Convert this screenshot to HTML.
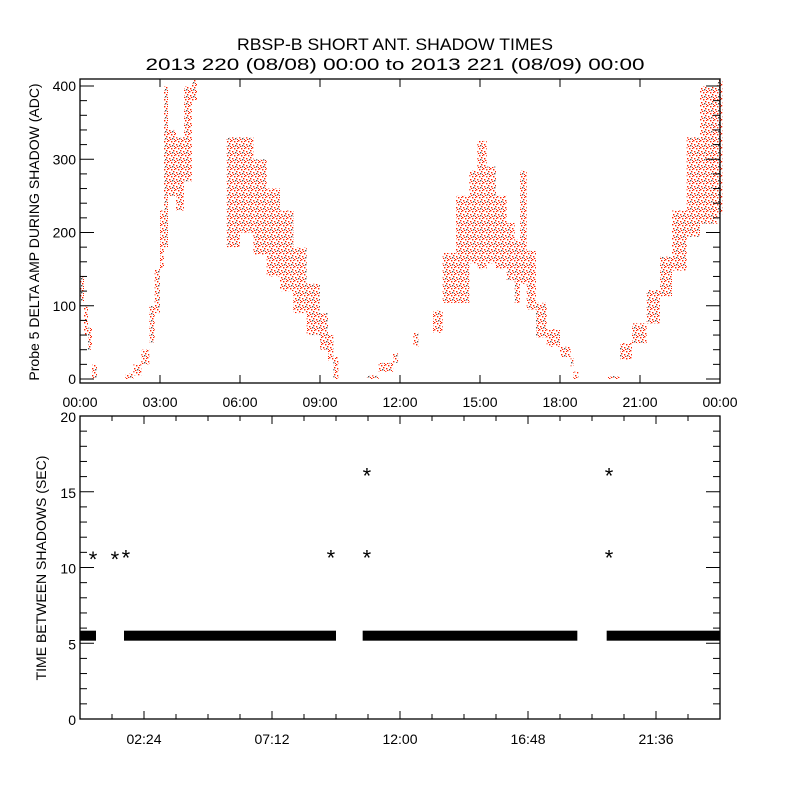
<!DOCTYPE html>
<html><head><meta charset="utf-8"><style>
html,body{margin:0;padding:0;background:#fff;}
svg{display:block;font-family:"Liberation Sans",sans-serif;}
</style></head><body>
<svg id="chart" width="800" height="800" viewBox="0 0 800 800" xmlns="http://www.w3.org/2000/svg">
<defs>
<pattern id="speck" width="7" height="7" patternUnits="userSpaceOnUse">
<rect x="0" y="0" width="1.4" height="1.4" fill="#ff2200"/>
<rect x="3" y="1" width="1.4" height="1.4" fill="#ff2200"/>
<rect x="5" y="3" width="1.4" height="1.4" fill="#ff2200"/>
<rect x="1" y="4" width="1.4" height="1.4" fill="#ff2200"/>
<rect x="4" y="5" width="1.4" height="1.4" fill="#555"/>
<rect x="2" y="6" width="1.4" height="1.4" fill="#ff2200"/>
<rect x="6" y="6" width="1" height="1" fill="#ff2200"/>
<rect x="6" y="1" width="1" height="1" fill="#ff2200"/>
</pattern>
</defs>
<text x="395" y="50" font-size="17" text-anchor="middle" textLength="316" lengthAdjust="spacingAndGlyphs">RBSP-B SHORT ANT. SHADOW TIMES</text>
<text x="395" y="70" font-size="17" text-anchor="middle" textLength="499" lengthAdjust="spacingAndGlyphs">2013 220 (08/08) 00:00 to 2013 221 (08/09) 00:00</text>
<g id="topPanel"></g>
<g id="botPanel"></g>
</svg>
<script>
// ---- top panel data: time (hours), low / high amplitude (ADC) of the scatter band ----
const ampTime = [0.0,0.15,0.3,0.45, 1.7,2.0,2.3,2.6,2.8,3.0,3.15,3.3,3.6,3.9,4.2,
 5.5,6.0,6.5,7.0,7.5,8.0,8.5,9.0,9.3,9.5,
 10.76,11.2,11.74,12.5,13.24,13.6,14.1,14.6,14.9,15.25,15.6,16.0,16.3,16.5,16.75,17.1,17.5,18.0,18.4,18.5,
 19.8,20.25,20.7,21.25,21.75,22.2,22.75,23.25,23.9];
const ampLow = [105,60,40,0, 0,5,20,50,90,150,180,250,230,270,380,
 180,200,170,140,120,90,60,40,25,0,
 0,10,22,44,63,104,104,158,150,158,150,135,104,130,95,57,44,30,17,0,
 0,26,49,76,113,148,194,212,225];
const ampHigh = [140,100,70,20, 8,20,40,100,150,230,400,340,330,400,410,
 330,330,300,260,230,180,130,90,60,30,
 5,22,35,63,94,172,250,285,325,290,250,213,190,285,175,104,68,44,30,10,
 4,49,76,122,167,230,330,400,410];
const ampTicks = [0,100,200,300,400];
const topTimeTicks = [0,3,6,9,12,15,18,21,24];
const topTimeLabels = ["00:00","03:00","06:00","09:00","12:00","15:00","18:00","21:00","00:00"];

// ---- bottom panel data ----
const segStart = [0.0,1.65,10.6,19.75];
const segEnd   = [0.6,9.6,18.65,24.0];
const segValue = [5.5,5.5,5.5,5.5];
const starTime = [0.49,1.31,1.72,9.41,10.76,10.76,19.84,19.84];
const starValue = [10.9,10.9,11.0,11.0,16.4,11.0,16.4,11.0];
const secTicks = [0,5,10,15,20];
const botTimeTicks = [2.4,7.2,12.0,16.8,21.6];
const botTimeLabels = ["02:24","07:12","12:00","16:48","21:36"];

const NS="http://www.w3.org/2000/svg";
function mk(tag,attrs,parent){const e=document.createElementNS(NS,tag);for(const k in attrs)e.setAttribute(k,attrs[k]);parent.appendChild(e);return e;}

const L=80,R=720;
const xT = h => L + (R-L)*h/24;
const T0=79,T1=383;
const yA = v => 379 - v*0.7325;
const B0=416,B1=719;
const yS = v => B1 - (B1-B0)*v/20;

const topG=document.getElementById('topPanel');
const botG=document.getElementById('botPanel');

for(let i=0;i<ampTime.length;i++){
  let w;
  if(i+1<ampTime.length && ampTime[i+1]-ampTime[i]<0.7) w=xT(ampTime[i+1])-xT(ampTime[i]); else w=5;
  const hi=Math.min(ampHigh[i],410);
  const r=mk('rect',{x:xT(ampTime[i]),y:yA(hi),width:w,height:Math.max(2,yA(ampLow[i])-yA(hi)),fill:'url(#speck)'},topG);
  
  
}
const f1=mk('rect',{x:L,y:T0,width:R-L,height:T1-T0,fill:'none',stroke:'#000','stroke-width':1.3},topG);


for(let v=0;v<=400;v+=20){
  const major=v%100===0; const len=major?14:7;
  mk('line',{x1:L,x2:L+len,y1:yA(v),y2:yA(v),stroke:'#000'},topG);
  mk('line',{x1:R,x2:R-len,y1:yA(v),y2:yA(v),stroke:'#000'},topG);
}
ampTicks.forEach(v=>{
  const t=mk('text',{x:L-4,y:yA(v)+5,'font-size':14,'text-anchor':'end'},topG);
  t.textContent=v;
  
  
});
topTimeTicks.forEach((h,i)=>{
  mk('line',{x1:xT(h),x2:xT(h),y1:T1,y2:T1-8,stroke:'#000'},topG);
  mk('line',{x1:xT(h),x2:xT(h),y1:T0,y2:T0+8,stroke:'#000'},topG);
  const t=mk('text',{x:xT(h),y:407,'font-size':14,'text-anchor':'middle'},topG);
  t.textContent=topTimeLabels[i];
  
  
});
const yt1=mk('text',{x:0,y:0,'font-size':14,'text-anchor':'middle',transform:'translate(39,232) rotate(-90)'},topG);
yt1.textContent='Probe 5 DELTA AMP DURING SHADOW (ADC)';



for(let i=0;i<segStart.length;i++){
  const r=mk('rect',{x:xT(segStart[i]),y:yS(segValue[i])-5,width:xT(segEnd[i])-xT(segStart[i]),height:10,fill:'#000'},botG);
  
  
}
for(let i=0;i<starTime.length;i++){
  const t=mk('text',{x:xT(starTime[i]),y:yS(starValue[i])+13,'font-size':22,'text-anchor':'middle'},botG);
  t.textContent='*';
  
  
}
const f2=mk('rect',{x:L,y:B0,width:R-L,height:B1-B0,fill:'none',stroke:'#000','stroke-width':1.3},botG);


for(let v=0;v<=20;v+=1){
  const major=v%5===0; const len=major?14:7;
  mk('line',{x1:L,x2:L+len,y1:yS(v),y2:yS(v),stroke:'#000'},botG);
  mk('line',{x1:R,x2:R-len,y1:yS(v),y2:yS(v),stroke:'#000'},botG);
}
secTicks.forEach(v=>{
  const t=mk('text',{x:L-4,y:yS(v)+6,'font-size':14,'text-anchor':'end'},botG);
  t.textContent=v;
  
  
});
for(let k=1;k<20;k++){
  const h=k*1.2;
  const len=(k%4===2)?8:5;
  mk('line',{x1:xT(h),x2:xT(h),y1:B1,y2:B1-len,stroke:'#000'},botG);
  mk('line',{x1:xT(h),x2:xT(h),y1:B0,y2:B0+len,stroke:'#000'},botG);
}
botTimeTicks.forEach((h,i)=>{
  const t=mk('text',{x:xT(h),y:744,'font-size':14,'text-anchor':'middle'},botG);
  t.textContent=botTimeLabels[i];
  
  
});
const yt2=mk('text',{x:0,y:0,'font-size':14,'text-anchor':'middle',transform:'translate(46,568) rotate(-90)'},botG);
yt2.textContent='TIME BETWEEN SHADOWS (SEC)';


</script>
</body></html>
